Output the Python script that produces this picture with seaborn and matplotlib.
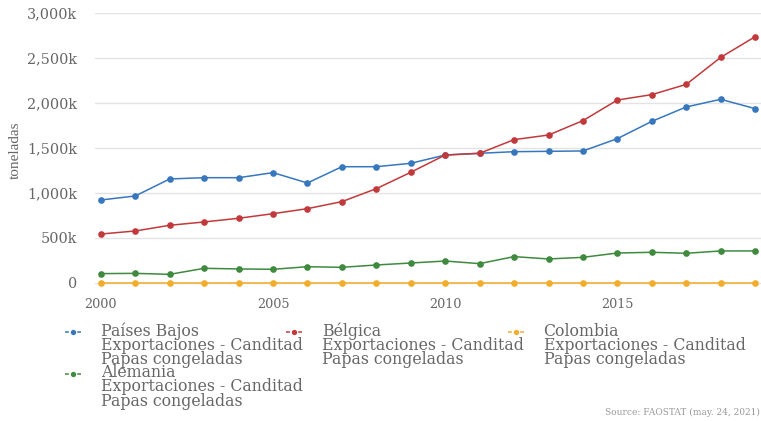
import numpy as np
import pandas as pd
import matplotlib
matplotlib.use("Agg")
import matplotlib.pyplot as plt
import matplotlib.ticker as mticker
from matplotlib import font_manager
import seaborn as sns

years = list(range(2000, 2020))

# toneladas (thousands)
paises_bajos = [922, 967, 1156, 1170, 1170, 1226, 1111, 1292, 1292, 1330,
                1422, 1441, 1459, 1463, 1467, 1604, 1796, 1956, 2041, 1937]
belgica = [544, 578, 641, 678, 719, 770, 826, 904, 1048, 1230,
           1422, 1441, 1593, 1644, 1804, 2033, 2093, 2207, 2507, 2737]
colombia = [0.5, 0.5, 0.5, 0.5, 0.5, 0.5, 0.5, 0.5, 0.5, 0.5,
            0.5, 0.5, 0.5, 0.5, 0.5, 0.5, 0.5, 0.5, 0.5, 0.5]
alemania = [104, 107, 96, 163, 156, 152, 181, 174, 200, 222,
            244, 215, 293, 267, 285, 333, 341, 330, 356, 356]

suffix = "\nExportaciones - Canditad\nPapas congeladas"
series_names = ["Países Bajos", "Alemania", "Bélgica", "Colombia"]
series_values = [paises_bajos, alemania, belgica, colombia]
colors = ["#3777be", "#3f8a3f", "#c2393c", "#f2ad2a"]

rows = []
for name, vals in zip(series_names, series_values):
    for y, v in zip(years, vals):
        rows.append({"year": y, "value": v * 1000, "pais": name + suffix})
df = pd.DataFrame(rows)

sns.set_style("white")
plt.rcParams["font.family"] = ["DejaVu Serif"]
grey = "#666666"

installed = {f.name for f in font_manager.fontManager.ttflist}
label_font = "Liberation Sans Narrow" if "Liberation Sans Narrow" in installed else "Liberation Serif"

fig = plt.figure(figsize=(7.61, 4.21), dpi=100)
ax = fig.add_axes([95 / 761, 1 - 290 / 421, 666 / 761, 277 / 421])

palette = dict(zip([n + suffix for n in series_names], colors))
sns.lineplot(data=df, x="year", y="value", hue="pais", palette=palette,
             marker="o", markersize=4.8, markeredgewidth=0, linewidth=1.1,
             ax=ax, legend=True)

ax.set_xlim(1999.83, 2019.17)
ax.set_ylim(-78000, 3000000)
ax.set_yticks(np.arange(0, 3000001, 500000))
ax.yaxis.set_major_formatter(mticker.FuncFormatter(
    lambda v, p: "0" if v == 0 else "{:,.0f}k".format(v / 1000)))
ax.set_xticks([2000, 2005, 2010, 2015])
ax.grid(axis="y", color="#e3e3e3", linewidth=1)
ax.grid(axis="x", visible=False)
for s in ax.spines.values():
    s.set_visible(False)
ax.tick_params(axis="y", length=0, labelsize=10.4, labelcolor=grey, pad=13)
ax.tick_params(axis="x", length=3, color="#cccccc", labelsize=9.2,
               labelcolor=grey, pad=3)
ax.set_xlabel("")
ax.set_ylabel("toneladas", family=label_font, fontsize=11, color=grey)
ax.yaxis.set_label_coords(-73 / 666, 140 / 277)

handles, labels = ax.get_legend_handles_labels()
leg = ax.legend(handles, labels, ncol=3, loc="upper left",
                bbox_to_anchor=(-30 / 666, -32 / 277), frameon=False,
                fontsize=11.3, labelcolor=grey, handlelength=1.0,
                handletextpad=1.27, columnspacing=-1.02,
                labelspacing=-0.22, borderaxespad=0, borderpad=0,
                markerscale=0.8)
for t in leg.get_texts():
    t.set_linespacing(0.78)
for h in leg.get_lines():
    h.set_linestyle((0, (2.5, 1.5)))
# put each handle next to the first line of its label
for col in leg._legend_handle_box.get_children():
    for item in col.get_children():
        item.align = "top"
        for a in item.get_children()[0].get_children():
            if hasattr(a, "get_ydata"):
                a.set_ydata(np.asarray(a.get_ydata()) - 3.0)

fig.text(0.999, 1 - 412 / 421, "Source: FAOSTAT (may. 24, 2021)", ha="right",
         va="center", fontsize=6.5, color="#999999")

fig.savefig("out.png", dpi=100)
